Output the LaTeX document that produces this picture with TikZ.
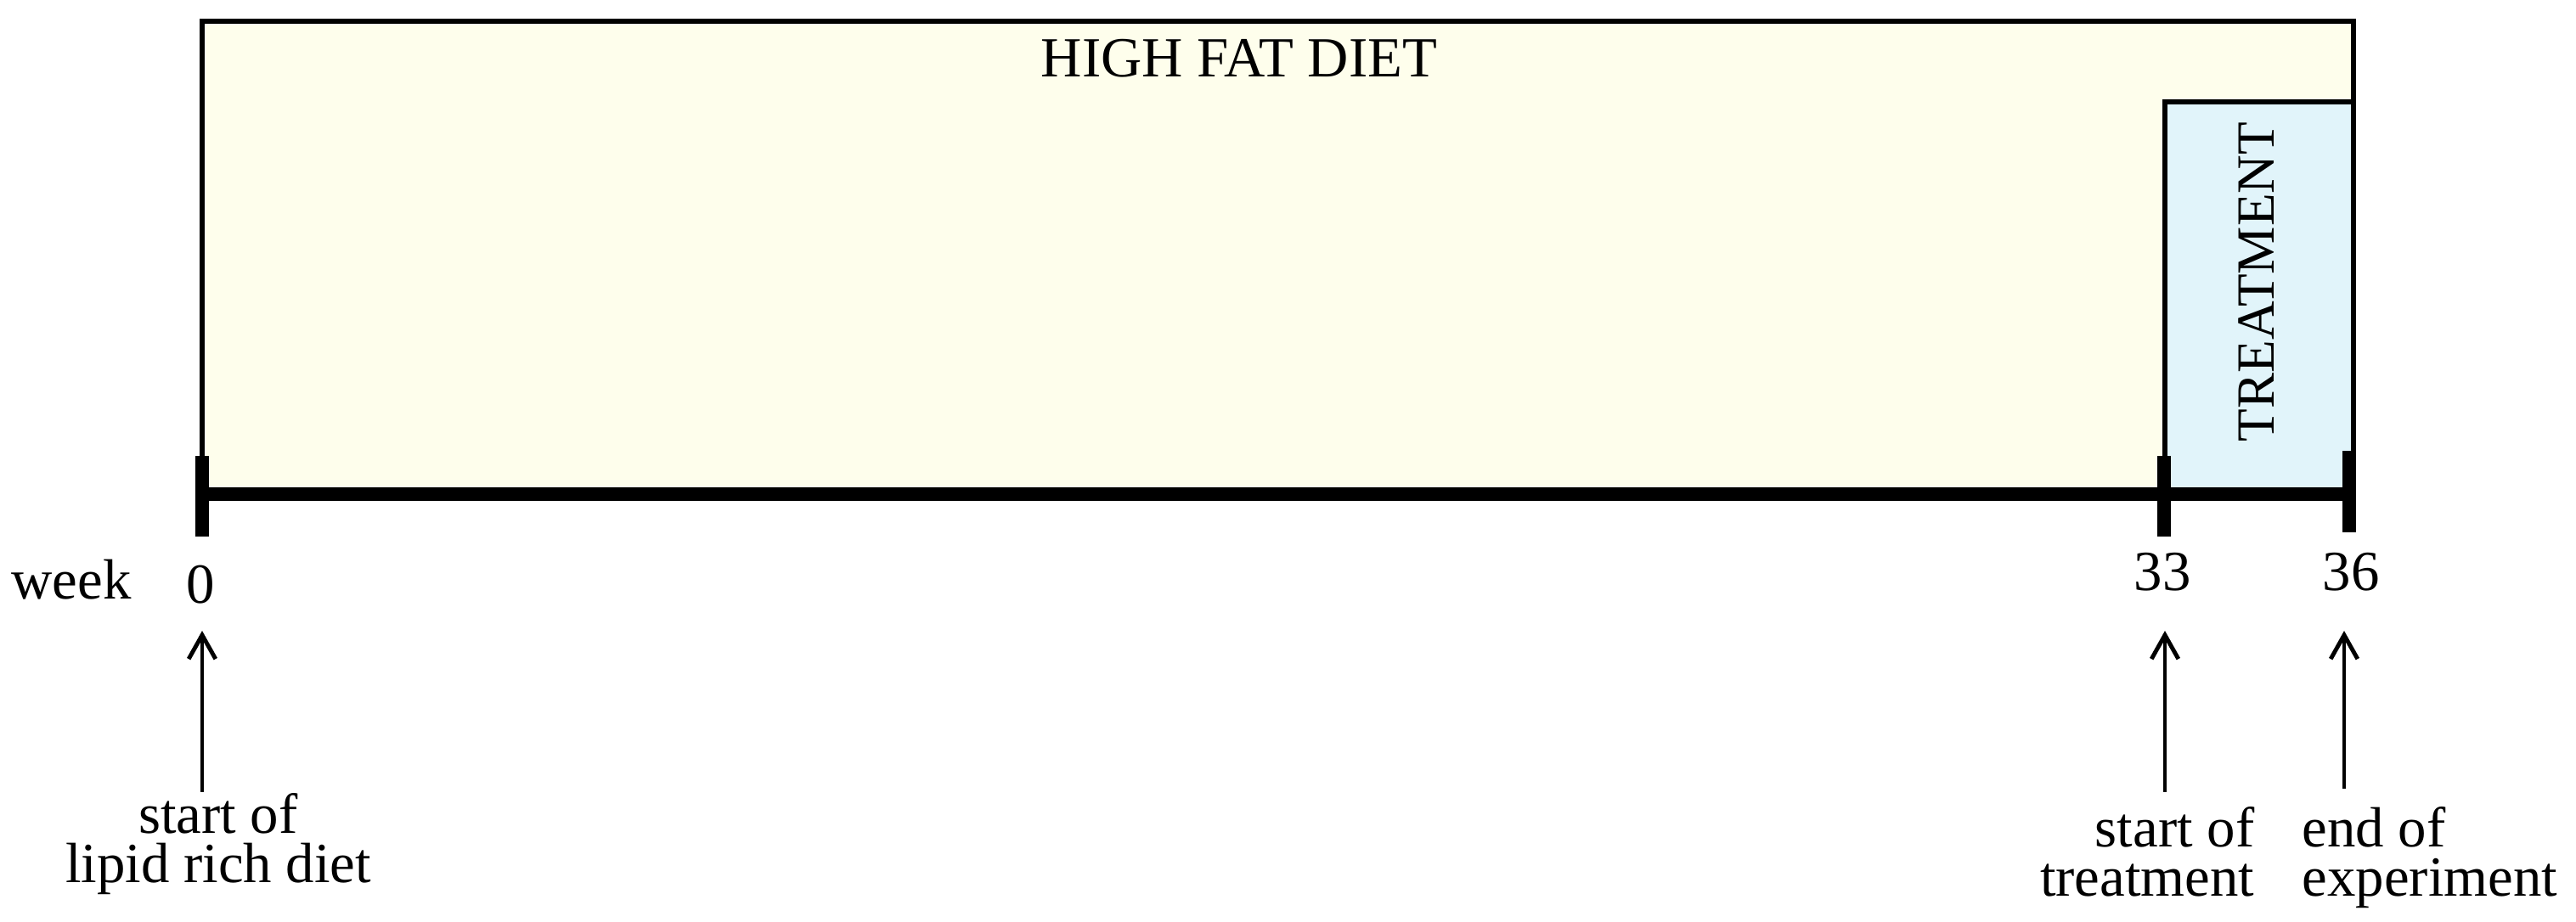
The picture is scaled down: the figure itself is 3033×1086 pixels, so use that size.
\documentclass[tikz,border=0pt]{standalone}
\usepackage{fontspec}
\setmainfont{Liberation Serif}
\usetikzlibrary{arrows.meta}

\definecolor{dietfill}{RGB}{254,254,236}
\definecolor{treatfill}{RGB}{225,244,250}

\begin{document}
\begin{tikzpicture}[x=0.01cm, y=-0.01cm,
  period/.style = {draw, line width=1.7pt},
  axis/.style = {line width=4.5pt},
  event/.style = {-{Straight Barb[length=8pt, width=9pt]}, line width=1.4pt},
  txt/.style = {inner sep=0pt, font=\fontsize{19}{16.5}\selectfont},
  ]
  \useasboundingbox (0,0) rectangle (3033,1086);

  % diet and treatment periods
  \draw[period, fill=dietfill] (238,25) rectangle (2771,582);
  \draw[period, fill=treatfill] (2548.5,120.5) rectangle (2771,582);
  \node[txt, anchor=base] (diet) at (1459,91) {HIGH FAT DIET};
  \node[txt, rotate=90, font=\fontsize{18}{18}\selectfont] (treat) at (2657,332) {TREATMENT};

  % time axis
  \draw[axis] (230,582) -- (2774,582);
  \draw[axis] (238,537) -- (238,632);
  \draw[axis] (2548,537) -- (2548,632);
  \draw[axis] (2766,531) -- (2766,627);

  \node[txt, anchor=base west] (week) at (13,706) {week};
  \node[txt, anchor=base] (w0) at (236,711) {0};
  \node[txt, anchor=base] (w33) at (2546,696) {33};
  \node[txt, anchor=base] (w36) at (2768,696) {36};

  % events
  \node[txt, align=center, anchor=north] (start) at (257,934) {start of\\lipid rich diet};
  \node[txt, align=right, anchor=north east] (treatstart) at (2655,950) {start of\\treatment};
  \node[txt, align=left, anchor=north west] (finish) at (2710,950) {end of\\experiment};

  \coordinate (a0) at (238,743);   \coordinate (b0) at (238,933);
  \coordinate (a33) at (2549,743); \coordinate (b33) at (2549,933);
  \coordinate (a36) at (2760,743); \coordinate (b36) at (2760,929);
  \draw[event] (b0) -- (a0);
  \draw[event] (b33) -- (a33);
  \draw[event] (b36) -- (a36);
\end{tikzpicture}
\end{document}
